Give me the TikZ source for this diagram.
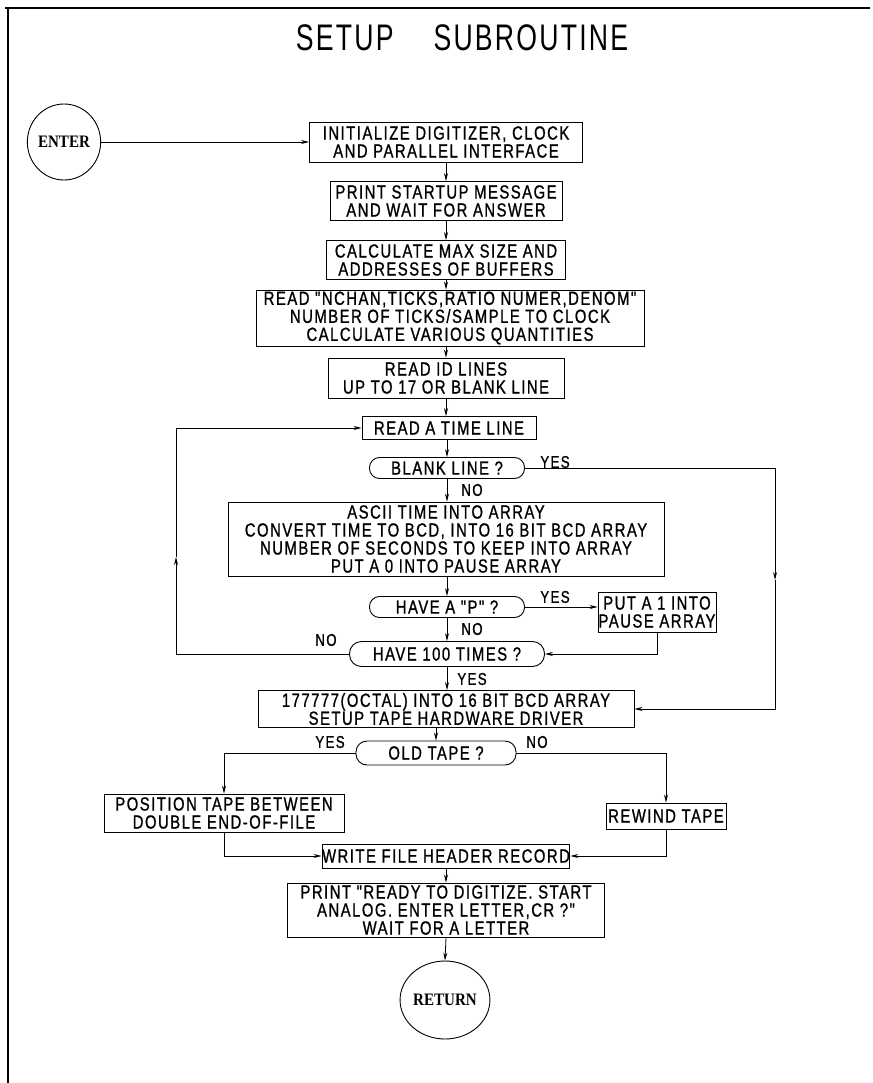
\documentclass[tikz,border=0pt]{standalone}
\usepackage{fontspec}
\setmainfont{Liberation Sans}
\newfontfamily\boxfont[FakeStretch=0.78,LetterSpace=8,FakeBold=1]{Liberation Sans}
\newfontfamily\titlefont[FakeStretch=0.72,LetterSpace=6]{Liberation Sans}
\newfontfamily\termfont[FakeStretch=0.86]{Liberation Serif}
\usetikzlibrary{arrows.meta,shapes.geometric}
\begin{document}
\begin{tikzpicture}[x=1pt,y=-1pt,
  box/.style={draw,line width=0.9pt,align=center,inner sep=0pt,font=\boxfont\fontsize{19}{18}\selectfont},
  dec/.style={draw,line width=0.9pt,align=center,inner sep=0pt,rounded corners=10pt,minimum height=21,font=\boxfont\fontsize{19}{18}\selectfont},
  term/.style={draw,ellipse,line width=0.9pt,inner sep=0pt,minimum width=61,minimum height=76,font=\termfont\bfseries\fontsize{17.5}{19}\selectfont},
  lab/.style={inner sep=0pt,font=\boxfont\fontsize{17}{18}\selectfont},
  arr/.style={line width=0.8pt,-{Stealth[length=8pt,width=4pt]}}]
\useasboundingbox (0,0) rectangle (872,1083);
\draw[line width=1.1pt] (5,8) -- (870,8);
\draw[line width=1.1pt] (8,8) -- (8,1083);
\node[inner sep=0pt,font=\titlefont\fontsize{37}{38}\selectfont] (title) at (462,38) {SETUP\hspace{40pt}SUBROUTINE};

\node[term] (enter) at (64,142) {ENTER};
\node[box,minimum width=273,minimum height=40] (b1) at (446,142) {INITIALIZE DIGITIZER, CLOCK\\AND PARALLEL INTERFACE};
\node[box,minimum width=232,minimum height=39] (b2) at (446,201) {PRINT STARTUP MESSAGE\\AND WAIT FOR ANSWER};
\node[box,minimum width=239,minimum height=39] (b3) at (446,260) {CALCULATE MAX SIZE AND\\ADDRESSES OF BUFFERS};
\node[box,minimum width=388,minimum height=56] (b4) at (450,318) {READ "NCHAN,TICKS,RATIO NUMER,DENOM"\\NUMBER OF TICKS/SAMPLE TO CLOCK\\CALCULATE VARIOUS QUANTITIES};
\node[box,minimum width=236,minimum height=40] (b5) at (446,378) {READ ID LINES\\UP TO 17 OR BLANK LINE};
\node[box,minimum width=174,minimum height=23] (b6) at (449,428) {READ A TIME LINE};
\node[dec,minimum width=155] (d1) at (447,468) {BLANK LINE ?};
\node[box,minimum width=436,minimum height=74] (b7) at (446,539) {ASCII TIME INTO ARRAY\\CONVERT TIME TO BCD, INTO 16 BIT BCD ARRAY\\NUMBER OF SECONDS TO KEEP INTO ARRAY\\PUT A 0 INTO PAUSE ARRAY};
\node[dec,minimum width=155] (d2) at (447,607) {HAVE A "P" ?};
\node[box,minimum width=118,minimum height=40] (b8) at (657,612) {PUT A 1 INTO\\PAUSE ARRAY};
\node[dec,minimum width=195,minimum height=25,rounded corners=12pt] (d3) at (447,654) {HAVE 100 TIMES ?};
\node[box,minimum width=376,minimum height=37] (b10) at (446,709) {177777(OCTAL) INTO 16 BIT BCD ARRAY\\SETUP TAPE HARDWARE DRIVER};
\node[dec,minimum width=160,minimum height=24,rounded corners=11pt] (d4) at (436,753) {OLD TAPE ?};
\node[box,minimum width=240,minimum height=38] (b11) at (224,813) {POSITION TAPE BETWEEN\\DOUBLE END-OF-FILE};
\node[box,minimum width=120,minimum height=26] (b12) at (666,816) {REWIND TAPE};
\node[box,minimum width=240,minimum height=24] (b13) at (446,856) {WRITE FILE HEADER RECORD};
\node[box,minimum width=317,minimum height=54] (b14) at (446,910) {PRINT "READY TO DIGITIZE. START\\ANALOG. ENTER LETTER,CR ?"\\WAIT FOR A LETTER};
\node[term,minimum width=63,minimum height=78] (ret) at (445,1000) {RETURN};

\coordinate (lup) at (176,557);
\coordinate (rdn) at (775,580);

\draw[arr] (enter.east) -- (b1.west);
\draw[arr] (b1.south) -- (b2.north);
\draw[arr] (b2.south) -- (b3.north);
\draw[arr] (b3.south) -- (b4.north -| b3.south);
\draw[arr] (b4.south -| b5.north) -- (b5.north);
\draw[arr] (b5.south) -- (b6.north -| b5.south);
\draw[arr] (b6.south -| d1.north) -- (d1.north);
\draw[arr] (d1.south) -- (b7.north -| d1.south);
\draw[arr] (b7.south -| d2.north) -- (d2.north);
\draw[arr] (d2.east) -- (b8.west |- d2.east);
\draw[arr] (d2.south) -- (d3.north);
\draw[arr] (b8.south) |- (d3.east);
\draw[arr] (d3.west) -| (lup);
\draw[arr] (lup) |- (b6.west);
\draw[arr] (d1.east) -| (rdn);
\draw[arr] (rdn) |- (b10.east);
\draw[arr] (d3.south) -- (b10.north -| d3.south);
\draw[arr] (b10.south -| d4.north) -- (d4.north);
\draw[arr] (d4.west) -| (b11.north);
\draw[arr] (d4.east) -| (b12.north);
\draw[arr] (b11.south) |- (b13.west);
\draw[arr] (b12.south) |- (b13.east);
\draw[arr] (b13.south) -- (b14.north);
\draw[arr] (b14.south) -- (ret.north);

\node[lab] (l1) at (555,462) {YES};
\node[lab] (l2) at (472,490) {NO};
\node[lab] (l3) at (555,597) {YES};
\node[lab] (l4) at (472,629) {NO};
\node[lab] (l5) at (326,640) {NO};
\node[lab] (l6) at (472,679) {YES};
\node[lab] (l7) at (330,742) {YES};
\node[lab] (l8) at (537,742) {NO};
\end{tikzpicture}
\end{document}
